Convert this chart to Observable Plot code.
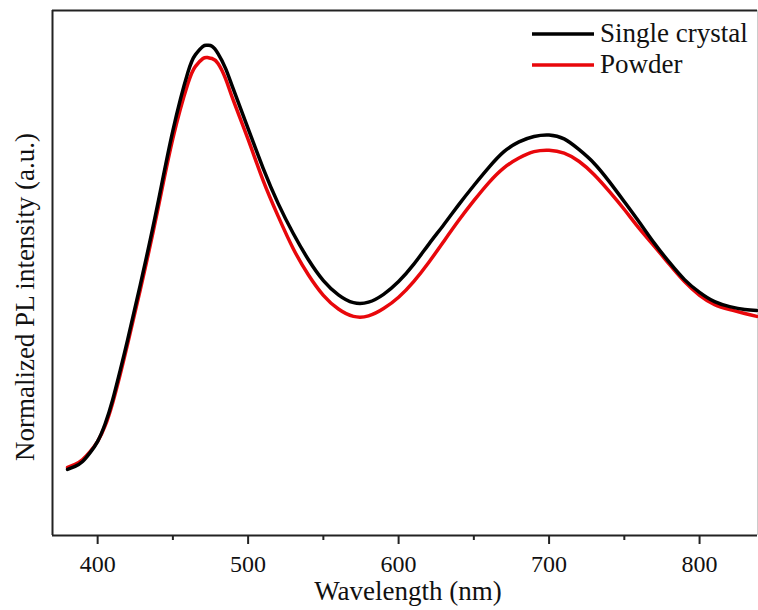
<!DOCTYPE html>
<html>
<head>
<meta charset="utf-8">
<script src="https://cdn.jsdelivr.net/npm/d3@7"></script>
<script src="https://cdn.jsdelivr.net/npm/@observablehq/plot@0.6"></script>
<style>
  html, body { margin: 0; padding: 0; background: #fff; }
  #wrap { position: relative; width: 758px; height: 610px; font-family: "Liberation Serif", "Times New Roman", serif; }
  #legend { position: absolute; left: 530px; top: 18px; }
  .lg-row { display: flex; align-items: center; height: 31px; }
  .lg-row svg { margin-right: 6px; }
  .lg-row span { font-size: 27px; color: #111; line-height: 31px; }
</style>
</head>
<body>
<div id="wrap"></div>
<script>
const wavelength = [380,385,390,395,400,405,410,415,420,430,440,450,460,465,470,473,476,480,485,490,500,510,520,530,540,550,560,570,580,590,600,610,620,630,640,650,660,670,680,690,700,710,720,730,740,750,760,770,780,790,800,810,820,830,838];
const singleCrystal = [0.135,0.141,0.151,0.169,0.192,0.228,0.277,0.337,0.400,0.534,0.677,0.826,0.945,0.981,0.998,1.000,0.998,0.983,0.953,0.912,0.830,0.749,0.677,0.616,0.563,0.520,0.491,0.475,0.476,0.492,0.518,0.553,0.594,0.634,0.675,0.714,0.751,0.783,0.803,0.814,0.817,0.809,0.787,0.759,0.722,0.681,0.639,0.596,0.557,0.522,0.496,0.477,0.467,0.461,0.459];
const powder = [0.139,0.145,0.155,0.171,0.192,0.224,0.271,0.329,0.392,0.524,0.665,0.810,0.922,0.957,0.973,0.975,0.973,0.963,0.932,0.889,0.808,0.724,0.651,0.585,0.532,0.490,0.462,0.447,0.448,0.463,0.486,0.518,0.557,0.600,0.643,0.683,0.720,0.750,0.770,0.783,0.786,0.780,0.763,0.736,0.702,0.665,0.626,0.590,0.553,0.518,0.490,0.471,0.461,0.453,0.447];
const seriesNames = ["Single crystal", "Powder"];
const seriesColors = ["#000000", "#e8070b"];
const majorTicks = [400, 500, 600, 700, 800];
const minorTicks = [450, 550, 650, 750];
const xDomain = [370, 838.5];
const yDomain = [0, 1.071];
const xLabel = "Wavelength (nm)";
const yLabel = "Normalized PL intensity (a.u.)";

const rows = [];
wavelength.forEach((w, i) => {
  rows.push({w, v: powder[i], s: seriesNames[1]});
});
wavelength.forEach((w, i) => {
  rows.push({w, v: singleCrystal[i], s: seriesNames[0]});
});

const axisColor = "#222";
const serif = "Liberation Serif, Times New Roman, serif";
const chart = Plot.plot({
  width: 758,
  height: 610,
  marginLeft: 52,
  marginRight: 1,
  marginTop: 10,
  marginBottom: 75,
  style: {fontFamily: serif, fontSize: "24px", color: "#111", background: "#fff"},
  x: {domain: xDomain},
  y: {domain: yDomain},
  color: {domain: seriesNames, range: seriesColors},
  marks: [
    Plot.axisX({ticks: majorTicks, tickSize: 9, strokeWidth: 2, stroke: axisColor, text: null, label: null}),
    Plot.axisX({ticks: minorTicks, tickSize: 5, strokeWidth: 2, stroke: axisColor, text: null, label: null}),
    Plot.text(majorTicks, {x: d => d, text: d => String(d), frameAnchor: "bottom", lineAnchor: "middle", dy: 29, fontSize: 24, fontFamily: serif, fill: "#111"}),
    Plot.axisY({ticks: [], label: null}),
    Plot.ruleX([xDomain[0]], {stroke: axisColor, strokeWidth: 2}),
    Plot.ruleX([xDomain[1]], {stroke: "#ccc", strokeWidth: 1}),
    Plot.ruleY([yDomain[0]], {stroke: axisColor, strokeWidth: 2}),
    Plot.ruleY([yDomain[1]], {stroke: axisColor, strokeWidth: 2}),
    Plot.line(rows, {x: "w", y: "v", z: "s", stroke: "s", strokeWidth: 3.5, curve: "natural"}),
    Plot.text([xLabel], {frameAnchor: "bottom", dy: 64, dx: 3, fontSize: 27, fontFamily: serif, fill: "#111", text: d => d}),
    Plot.text([yLabel], {frameAnchor: "left", dx: -27, dy: 24, rotate: -90, textAnchor: "middle", fontSize: 27, fontFamily: serif, fill: "#111", text: d => d})
  ]
});

const wrap = document.getElementById("wrap");
wrap.appendChild(chart);

const legend = document.createElement("div");
legend.id = "legend";
seriesNames.forEach((name, i) => {
  const row = document.createElement("div");
  row.className = "lg-row";
  row.innerHTML = `<svg width="64" height="6"><line x1="2" y1="3" x2="64" y2="3" stroke="${seriesColors[i]}" stroke-width="3.5"/></svg><span>${name}</span>`;
  legend.appendChild(row);
});
wrap.appendChild(legend);
</script>
</body>
</html>
